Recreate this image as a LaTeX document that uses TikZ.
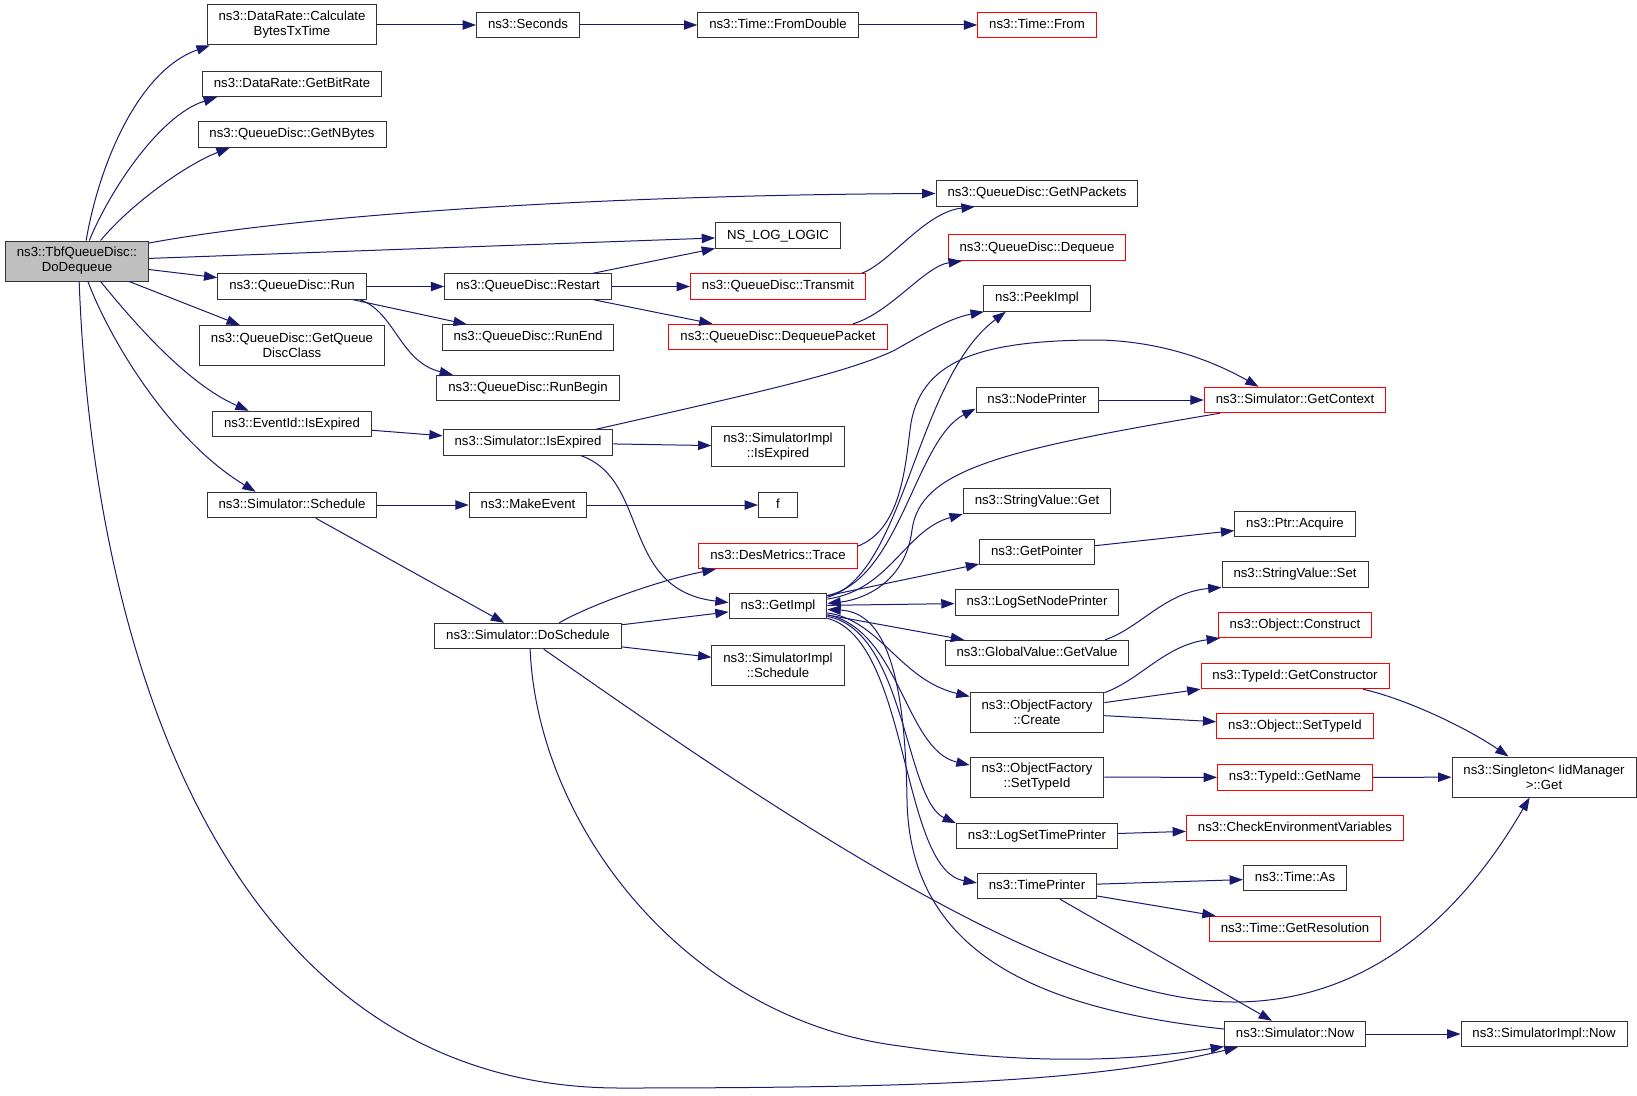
\documentclass[tikz,border=0pt]{standalone}
\usepackage{fontspec}
\newfontfamily\dotfont{Liberation Sans}
\usepackage{tikz}
\usetikzlibrary{arrows.meta}
\definecolor{edgeblue}{HTML}{191970}
\definecolor{rootgray}{HTML}{BFBFBF}
\tikzset{>={Triangle[length=10pt,width=7pt]},
         fnbase/.style={draw=black!80, fill=white, line width=0.75pt,
           inner xsep=8.6pt, inner ysep=0pt,
           font=\dotfont\fontsize{9.9}{11.25}\selectfont},
         fn/.style={fnbase, minimum height=19.1pt, text height=7.2pt, text depth=2.1pt},
         fntwo/.style={fnbase, align=center, minimum height=30pt},
         truncated/.style={draw=red},
         rootfn/.style={fill=rootgray},
         call/.style={->, draw=edgeblue, line width=0.75pt}}

\begin{document}
\begin{tikzpicture}[x=0.75pt,y=-0.75pt]
	  \fill[white] (0,0) rectangle (1637,1095);

	  \node[fntwo, rootfn] (dodequeue) at (77,261) {ns3::TbfQueueDisc::\\DoDequeue};

	  \node[fntwo] (calcbytes) at (292,25) {ns3::DataRate::Calculate\\BytesTxTime};
	  \node[fn] (getbitrate) at (292,84) {ns3::DataRate::GetBitRate};
	  \node[fn] (getnbytes) at (292,134.5) {ns3::QueueDisc::GetNBytes};
	  \node[fn] (qdrun) at (292,286.5) {ns3::QueueDisc::Run};
	  \node[fntwo] (getqdclass) at (292,345.5) {ns3::QueueDisc::GetQueue\\DiscClass};
	  \node[fn] (evisexpired) at (292,424) {ns3::EventId::IsExpired};
	  \node[fn] (simschedule) at (292,505) {ns3::Simulator::Schedule};

	  \node[fn] (seconds) at (528,25) {ns3::Seconds};
	  \node[fn] (qdrestart) at (528,286.5) {ns3::QueueDisc::Restart};
	  \node[fn] (qdrunend) at (528,337.5) {ns3::QueueDisc::RunEnd};
	  \node[fn] (qdrunbegin) at (528,388) {ns3::QueueDisc::RunBegin};
	  \node[fn] (simisexpired) at (528,442.5) {ns3::Simulator::IsExpired};
	  \node[fn] (makeevent) at (528,505) {ns3::MakeEvent};
	  \node[fn] (doschedule) at (528,636) {ns3::Simulator::DoSchedule};

	  \node[fn] (fromdouble) at (778,25) {ns3::Time::FromDouble};
	  \node[fn] (nsloglogic) at (778,235.7) {NS\_LOG\_LOGIC};
	  \node[fn, truncated] (qdtransmit) at (778,286.5) {ns3::QueueDisc::Transmit};
	  \node[fn, truncated] (dequeuepacket) at (778,337) {ns3::QueueDisc::DequeuePacket};
	  \node[fntwo] (implisexpired) at (778,446.7) {ns3::SimulatorImpl\\::IsExpired};
	  \node[fn, minimum width=29.3pt] (fcall) at (778,505) {f};
	  \node[fn, truncated] (destrace) at (778,556) {ns3::DesMetrics::Trace};
	  \node[fn] (getimpl) at (778,606) {ns3::GetImpl};
	  \node[fntwo] (implschedule) at (778,665) {ns3::SimulatorImpl\\::Schedule};

	  \node[fn, truncated] (timefrom) at (1037,25) {ns3::Time::From};
	  \node[fn] (getnpackets) at (1037,193.5) {ns3::QueueDisc::GetNPackets};
	  \node[fn, truncated] (qddequeue) at (1037,247.7) {ns3::QueueDisc::Dequeue};
	  \node[fn] (peekimpl) at (1037,298.5) {ns3::PeekImpl};
	  \node[fn] (nodeprinter) at (1037,400) {ns3::NodePrinter};
	  \node[fn] (strvalueget) at (1037,501) {ns3::StringValue::Get};
	  \node[fn] (getpointer) at (1037,552) {ns3::GetPointer};
	  \node[fn] (setnodeprinter) at (1037,602.5) {ns3::LogSetNodePrinter};
	  \node[fn] (getvalue) at (1037,653) {ns3::GlobalValue::GetValue};
	  \node[fntwo] (ofcreate) at (1037,712) {ns3::ObjectFactory\\::Create};
	  \node[fntwo] (ofsettypeid) at (1037,777) {ns3::ObjectFactory\\::SetTypeId};
	  \node[fn] (settimeprinter) at (1037,836) {ns3::LogSetTimePrinter};
	  \node[fn] (timeprinter) at (1037,886) {ns3::TimePrinter};

	  \node[fn, truncated] (getcontext) at (1295,400) {ns3::Simulator::GetContext};
	  \node[fn] (ptracquire) at (1295,524) {ns3::Ptr::Acquire};
	  \node[fn] (strvalueset) at (1295,574.5) {ns3::StringValue::Set};
	  \node[fn, truncated] (objconstruct) at (1295,625) {ns3::Object::Construct};
	  \node[fn, truncated] (getconstructor) at (1295,676) {ns3::TypeId::GetConstructor};
	  \node[fn, truncated] (objsettypeid) at (1295,726) {ns3::Object::SetTypeId};
	  \node[fn, truncated] (tidgetname) at (1295,777.5) {ns3::TypeId::GetName};
	  \node[fn, truncated] (checkenv) at (1295,828) {ns3::CheckEnvironmentVariables};
	  \node[fn] (timeas) at (1295,878) {ns3::Time::As};
	  \node[fn, truncated] (getresolution) at (1295,929) {ns3::Time::GetResolution};
	  \node[fn] (simnow) at (1295,1034) {ns3::Simulator::Now};

	  \node[fntwo] (iidsingleton) at (1544,777) {ns3::Singleton< IidManager\\>::Get};
	  \node[fn] (implnow) at (1544,1034) {ns3::SimulatorImpl::Now};

	  \draw[call] (dodequeue.66) .. controls (100,160) and (140,70) .. (calcbytes.194);
	  \draw[call] (dodequeue.59) .. controls (110,190) and (160,115) .. (getbitrate.190);
	  \draw[call] (dodequeue.41) .. controls (130,205) and (185,165) .. (getnbytes.192);
	  \draw[call] (dodequeue.14) .. controls (300,215) and (600,195) .. (getnpackets.west);
	  \draw[call] (dodequeue) -- (nsloglogic);
	  \draw[call] (dodequeue) -- (qdrun);
	  \draw[call] (dodequeue) -- (getqdclass);
	  \draw[call] (dodequeue.-41) .. controls (140,330) and (190,385) .. (evisexpired.163);
	  \draw[call] (dodequeue.-62) .. controls (110,340) and (170,440) .. (simschedule.160);
	  \draw[call] (dodequeue.-84) .. controls (95,700) and (250,1088) .. (620,1088)
	    .. controls (950,1088) and (1100,1080) .. (simnow.193);

	  \draw[call] (calcbytes) -- (seconds);
	  \draw[call] (seconds) -- (fromdouble);
	  \draw[call] (fromdouble) -- (timefrom);
	  \draw[call] (qdrun) -- (qdrestart);
	  \draw[call] (qdrun) -- (qdrunend);
	  \draw[call] (qdrun.-11) .. controls (395,312) and (400,362) .. (qdrunbegin.170);
	  \draw[call] (evisexpired) -- (simisexpired);
	  \draw[call] (simschedule) -- (makeevent);
	  \draw[call] (simschedule) -- (doschedule);

	  \draw[call] (qdrestart) -- (nsloglogic);
	  \draw[call] (qdrestart) -- (qdtransmit);
	  \draw[call] (qdrestart) -- (dequeuepacket);
	  \draw[call] (qdtransmit.9) .. controls (890,263) and (925,212) .. (getnpackets.192);
	  \draw[call] (dequeuepacket.10) .. controls (890,313) and (925,266) .. (qddequeue.190);
	  \draw[call] (simisexpired.11) .. controls (760,392) and (850,372) .. (895,350)
	    .. controls (925,333) and (950,318) .. (peekimpl.194);
	  \draw[call] (simisexpired) -- (implisexpired);
	  \draw[call] (simisexpired.-14) .. controls (650,480) and (620,590) .. (getimpl.176);
	  \draw[call] (makeevent) -- (fcall);
	  \draw[call] (doschedule.23) .. controls (590,605) and (660,580) .. (destrace.192);
	  \draw[call] (doschedule) -- (getimpl);
	  \draw[call] (doschedule) -- (implschedule);
	  \draw[call] (doschedule.-81) .. controls (538,830) and (690,1020) .. (900,1046)
	    .. controls (1050,1068) and (1150,1058) .. (simnow.190);
	  \draw[call] (doschedule.-40) .. controls (760,800) and (1050,1002) .. (1234,1002)
	    .. controls (1380,1002) and (1470,900) .. (iidsingleton.235);

	  \draw[call] (getimpl.10) .. controls (905,575) and (915,380) .. (peekimpl.203);
	  \draw[call] (getimpl.12) .. controls (900,580) and (915,440) .. (nodeprinter.188);
	  \draw[call] (getimpl.8) .. controls (890,590) and (905,530) .. (strvalueget.190);
	  \draw[call] (getimpl) -- (getpointer);
	  \draw[call] (getimpl) -- (setnodeprinter);
	  \draw[call] (getimpl) -- (getvalue);
	  \draw[call] (getimpl.-8) .. controls (880,620) and (900,680) .. (ofcreate.167);
	  \draw[call] (getimpl.-10) .. controls (900,630) and (905,750) .. (ofsettypeid.170);
	  \draw[call] (getimpl.-12) .. controls (905,630) and (905,800) .. (settimeprinter.171);
	  \draw[call] (getimpl.-14) .. controls (910,640) and (900,870) .. (timeprinter.177);
	  \draw[call] (destrace.7) .. controls (900,530) and (905,470) .. (910,430)
	    .. controls (918,360) and (980,340) .. (1100,340)
	    .. controls (1170,342) and (1220,365) .. (getcontext.160);

	  \draw[call] (nodeprinter) -- (getcontext);
	  \draw[call] (getpointer) -- (ptracquire);
	  \draw[call] (getvalue.11) .. controls (1140,628) and (1165,592) .. (strvalueset.190);
	  \draw[call] (ofcreate.16) .. controls (1140,680) and (1165,645) .. (objconstruct.190);
	  \draw[call] (ofcreate) -- (getconstructor);
	  \draw[call] (ofcreate) -- (objsettypeid);
	  \draw[call] (ofsettypeid) -- (tidgetname);
	  \draw[call] (settimeprinter) -- (checkenv);
	  \draw[call] (timeprinter) -- (timeas);
	  \draw[call] (timeprinter) -- (getresolution);
	  \draw[call] (timeprinter) -- (simnow);

	  \draw[call] (getcontext.190) .. controls (1000,450) and (920,470) .. (912,530)
	    .. controls (905,585) and (860,600) .. (getimpl.3);
	  \draw[call] (simnow.176) .. controls (1050,1010) and (910,960) .. (907,800)
	    .. controls (905,660) and (880,612) .. (getimpl.-4);
	  \draw[call] (simnow) -- (implnow);
	  \draw[call] (tidgetname) -- (iidsingleton);
	  \draw[call] (getconstructor.-11) .. controls (1410,700) and (1470,730) .. (iidsingleton.150);
	\end{tikzpicture}
\end{document}
